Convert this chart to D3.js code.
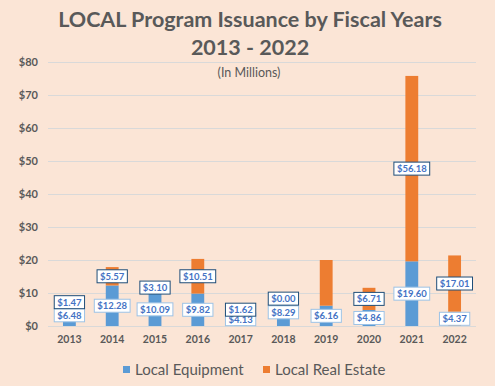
<!DOCTYPE html>
<html>
<head>
<meta charset="utf-8">
<script src="https://cdn.jsdelivr.net/npm/d3@7"></script>
<style>
  body { margin: 0; background: #fbe5d6; }
  svg { display: block; font-family: Lato, "Open Sans", sans-serif; }
</style>
</head>
<body>
<div id="chart"></div>
<script>
// chart data (millions of dollars)
var years = ["2013", "2014", "2015", "2016", "2017", "2018", "2019", "2020", "2021", "2022"];
var equipment = [6.48, 12.28, 10.09, 9.82, 4.13, 8.29, 6.16, 4.86, 19.60, 4.37];
var realEstate = [1.47, 5.57, 3.10, 10.51, 1.62, 0.00, 13.84, 6.71, 56.18, 17.01];
// 2019 real estate has no label in the original
var realEstateLabels = ["$1.47", "$5.57", "$3.10", "$10.51", "$1.62", "$0.00", null, "$6.71", "$56.18", "$17.01"];
var yTicks = [0, 10, 20, 30, 40, 50, 60, 70, 80];
var seriesNames = ["Local Equipment", "Local Real Estate"];

var width = 495, height = 386;
var margin = {top: 62, right: 19, bottom: 60, left: 48};

var blue = "#5b9bd5", orange = "#ed7d31";

var svg = d3.select("#chart")
  .append("svg")
    .attr("width", width)
    .attr("height", height);

svg.append("rect")
  .attr("width", width)
  .attr("height", height)
  .attr("fill", "#fbe5d6");

// scales
var x = d3.scaleBand()
  .domain(years)
  .range([margin.left, width - margin.right])
  .paddingInner(0.7)
  .paddingOuter(0.35);

var y = d3.scaleLinear()
  .domain([0, 80])
  .range([height - margin.bottom, margin.top]);

// gridlines
svg.append("g")
  .selectAll("line")
  .data(yTicks)
  .enter()
  .append("line")
    .attr("x1", margin.left)
    .attr("x2", width - margin.right)
    .attr("y1", d => Math.round(y(d)) + 0.5)
    .attr("y2", d => Math.round(y(d)) + 0.5)
    .attr("stroke", "#d9d9d9")
    .attr("stroke-width", 1);

// y axis labels
var yAxis = svg.append("g")
  .attr("transform", "translate(" + (margin.left - 10) + ",0)")
  .call(d3.axisLeft(y).tickValues(yTicks).tickFormat(d => "$" + d).tickSize(0).tickPadding(0));
yAxis.select(".domain").remove();
yAxis.selectAll("text")
  .attr("fill", "#595959")
  .style("font-size", "11px")
  .style("font-weight", "bold")
  .style("font-family", "Lato, sans-serif");

// x axis labels
var xAxis = svg.append("g")
  .attr("transform", "translate(0," + (height - margin.bottom) + ")")
  .call(d3.axisBottom(x).tickSize(0).tickPadding(10));
xAxis.select(".domain").remove();
xAxis.selectAll("text")
  .attr("fill", "#595959")
  .style("font-size", "10.5px")
  .style("font-weight", "bold")
  .style("font-family", "Lato, sans-serif");

// stacked bars
var rows = years.map((yr, i) => ({year: yr, equipment: equipment[i], realEstate: realEstate[i]}));
var stack = d3.stack().keys(["equipment", "realEstate"]);
var layers = stack(rows);

svg.append("g")
  .selectAll("g")
  .data(layers)
  .enter()
  .append("g")
  .selectAll("rect")
  .data(d => d.map(p => ({key: d.key, p: p})))
  .enter()
  .append("rect")
    .attr("x", d => x(d.p.data.year))
    .attr("width", x.bandwidth())
    .attr("y", d => y(d.p[1]))
    .attr("height", d => y(d.p[0]) - y(d.p[1]))
    // in the original the 2022 equipment piece is coloured like real estate
    .attr("fill", d => (d.key === "realEstate" || d.p.data.year === "2022") ? orange : blue);

// data labels, centred in each segment
function drawLabels(layer, texts, border) {
  var g = svg.append("g");
  layer.forEach(function(p, i) {
    if (texts[i] == null) return;
    var cx = x(p.data.year) + x.bandwidth() / 2;
    var cy = y((p[0] + p[1]) / 2);
    var lg = g.append("g").attr("transform", "translate(" + cx + "," + cy + ")");
    var box = lg.append("rect");
    var t = lg.append("text")
      .attr("text-anchor", "middle")
      .attr("dy", "0.35em")
      .attr("fill", "#4472c4")
      .style("font-size", "9.5px")
      .style("font-weight", "bold")
      .text(texts[i]);
    var w = t.node().getComputedTextLength() + 6;
    box.attr("x", -w / 2)
      .attr("y", -6.5)
      .attr("width", w)
      .attr("height", 13)
      .attr("fill", "white")
      .attr("stroke", border)
      .attr("stroke-width", 1);
  });
}

drawLabels(layers[0], equipment.map(v => "$" + v.toFixed(2)), "#9dc3e6");
drawLabels(layers[1], realEstateLabels, "#1f4e79");

// title
svg.append("text")
  .attr("x", 250)
  .attr("y", 27)
  .attr("text-anchor", "middle")
  .attr("fill", "#595959")
  .style("font-size", "21.5px")
  .style("font-weight", "bold")
  .text("LOCAL Program Issuance by Fiscal Years");

svg.append("text")
  .attr("x", 250)
  .attr("y", 55)
  .attr("text-anchor", "middle")
  .attr("fill", "#595959")
  .style("font-size", "21.5px")
  .style("font-weight", "bold")
  .text("2013 - 2022");

svg.append("text")
  .attr("x", 249)
  .attr("y", 77)
  .attr("text-anchor", "middle")
  .attr("fill", "#595959")
  .style("font-size", "12.5px")
  .text("(In Millions)");

// legend
var legend = svg.append("g")
  .attr("transform", "translate(123,366)");

var legendX = [0, 140];
seriesNames.forEach(function(name, i) {
  var item = legend.append("g").attr("transform", "translate(" + legendX[i] + ",0)");
  item.append("rect")
    .attr("width", 7)
    .attr("height", 7)
    .attr("fill", i === 0 ? blue : orange);
  item.append("text")
    .attr("x", 12)
    .attr("y", 9)
    .attr("fill", "#595959")
    .style("font-size", "15px")
    .text(name);
});
</script>
</body>
</html>
